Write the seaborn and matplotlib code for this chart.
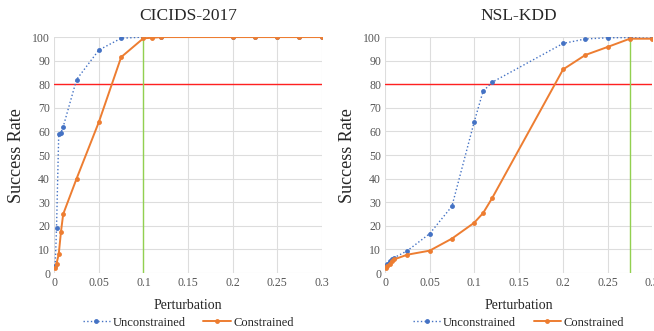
import matplotlib
matplotlib.use("Agg")
import matplotlib.pyplot as plt
import seaborn as sns
import pandas as pd

# %% DATA
perturbation = [0.001, 0.0025, 0.005, 0.0075, 0.01, 0.025, 0.05, 0.075,
                0.1, 0.11, 0.12, 0.2, 0.225, 0.25, 0.275, 0.3]

cicids_unconstrained = [3, 19, 59, 59.5, 62, 82, 94.5, 99.5,
                        100, 100, 100, 100, 100, 100, 100, 100]
cicids_constrained = [2, 4, 8, 17.5, 25, 40, 64, 91.5,
                      99.5, 99.7, 100, 100, 100, 100, 100, 100]

nsl_unconstrained = [3, 4, 5, 6, 6.5, 9.5, 16.7, 28.3,
                     64, 77, 80.8, 97.3, 99.2, 99.7, 99.8, 99.5]
nsl_constrained = [2.3, 3, 4, 5, 5.8, 7.8, 9.5, 14.6,
                   21.3, 25.4, 31.6, 86.3, 92.4, 95.8, 99.3, 99.3]

titles = ["CICIDS-2017", "NSL-KDD"]
threshold = 80
green_x = [0.1, 0.275]

# %% STYLE
sns.set_style("whitegrid")
plt.rcParams["font.family"] = ["Liberation Serif", "DejaVu Serif"]

blue = "#4472C4"
orange = "#ED7D31"

fig = plt.figure(figsize=(6.54, 3.31), dpi=100)
ax1 = fig.add_axes([0.083, 0.175, 0.409, 0.713])
ax2 = fig.add_axes([0.589, 0.175, 0.408, 0.713])

datasets = [(cicids_unconstrained, cicids_constrained),
            (nsl_unconstrained, nsl_constrained)]

for ax, title, (unc, con), gx in zip([ax1, ax2], titles, datasets, green_x):
    df = pd.DataFrame({"x": perturbation, "Unconstrained": unc, "Constrained": con})
    sns.lineplot(data=df, x="x", y="Unconstrained", ax=ax, color=blue,
                 linestyle=":", linewidth=1.0, marker="o", markersize=3.5,
                 markeredgewidth=0, label="Unconstrained")
    sns.lineplot(data=df, x="x", y="Constrained", ax=ax, color=orange,
                 linewidth=1.4, marker="o", markersize=3.5,
                 markeredgewidth=0, label="Constrained")
    ax.axhline(threshold, color="#FF2020", linewidth=1.0, zorder=1)
    ax.axvline(gx, color="#92D050", linewidth=1.0, zorder=1)

    ax.set_xlim(0, 0.3)
    ax.set_ylim(0, 100)
    ax.set_xticks([0, 0.05, 0.1, 0.15, 0.2, 0.25, 0.3])
    ax.set_xticklabels(["0", "0.05", "0.1", "0.15", "0.2", "0.25", "0.3"])
    ax.set_yticks(range(0, 101, 10))
    ax.tick_params(axis="both", labelsize=8.5, labelcolor="#555555",
                   length=0, pad=3)
    ax.grid(color="#DDDDDD", linewidth=0.8)
    for s in ax.spines.values():
        s.set_visible(False)

    ax.set_title(title, fontsize=12.5, pad=12)
    ax.set_xlabel("Perturbation", fontsize=10, labelpad=7)
    ax.set_ylabel("Success Rate", fontsize=13, labelpad=5)

    ax.legend(loc="center", bbox_to_anchor=(0.5, -0.21), ncol=2,
              frameon=False, fontsize=9, handlelength=2.2,
              columnspacing=1.4, handletextpad=0.2, borderaxespad=0)

fig.savefig("out.png", dpi=100)
